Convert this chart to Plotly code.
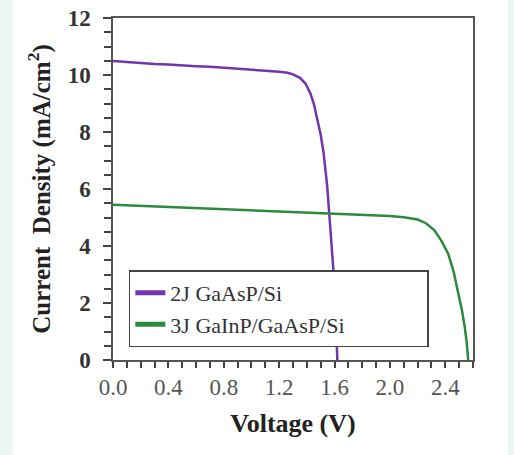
import plotly.graph_objects as go

# 2J GaAsP/Si
v_2j = [0.0, 0.1, 0.2, 0.3, 0.4, 0.5, 0.6, 0.7, 0.8, 0.9, 1.0, 1.1, 1.2, 1.26, 1.30,
        1.35, 1.39, 1.425, 1.45, 1.475, 1.50, 1.52, 1.547, 1.57, 1.594, 1.61, 1.62]
j_2j = [10.49, 10.45, 10.43, 10.39, 10.37, 10.33, 10.31, 10.29, 10.26, 10.23, 10.19, 10.15, 10.11, 10.08, 10.02,
        9.90, 9.70, 9.36, 9.00, 8.50, 7.90, 7.30, 6.10, 4.60, 3.00, 1.50, 0.0]

# 3J GaInP/GaAsP/Si
v_3j = [0.0, 0.2, 0.4, 0.6, 0.8, 1.0, 1.2, 1.4, 1.6, 1.8, 2.0, 2.1, 2.2, 2.26, 2.32,
        2.37, 2.42, 2.46, 2.49, 2.52, 2.54, 2.555, 2.565]
j_3j = [5.45, 5.41, 5.37, 5.32, 5.28, 5.24, 5.21, 5.18, 5.14, 5.10, 5.05, 5.01, 4.93, 4.80, 4.56,
        4.20, 3.74, 3.10, 2.46, 1.75, 1.17, 0.60, 0.0]

series_names = ["2J GaAsP/Si", "3J GaInP/GaAsP/Si"]
x_ticks = [0.0, 0.4, 0.8, 1.2, 1.6, 2.0, 2.4]
x_ticklabels = ["0.0", "0.4", "0.8", "1.2", "1.6", "2.0", "2.4"]
y_ticks = [0, 2, 4, 6, 8, 10, 12]
y_ticklabels = ["0", "2", "4", "6", "8", "10", "12"]

SERIF = "Liberation Serif"
NBSP = "\u00a0"

fig = go.Figure()
fig.add_trace(go.Scatter(x=v_2j, y=j_2j, mode="lines", name=series_names[0] + NBSP * 24,
                         line=dict(color="#7434ad", width=2.5)))
fig.add_trace(go.Scatter(x=v_3j, y=j_3j, mode="lines", name=series_names[1] + NBSP * 14,
                         line=dict(color="#2b8a3c", width=2.5)))

fig.add_shape(type="rect", xref="paper", yref="paper",
              x0=(13 - 113) / 360, x1=(508 - 113) / 360, y0=-0.35, y1=1.1,
              fillcolor="white", line=dict(width=0), layer="below")

fig.update_layout(
    width=514, height=455,
    margin=dict(l=113, r=41, t=18, b=95),
    paper_bgcolor="#ebf5f1",
    plot_bgcolor="white",
    font=dict(family=SERIF, color="#333333"),
    showlegend=True,
    legend=dict(
        x=0.044, y=0.262, xanchor="left", yanchor="top",
        bgcolor="white", bordercolor="#444444", borderwidth=1.5,
        font=dict(family=SERIF, size=22, color="#333333"),
        tracegroupgap=0, itemsizing="constant",
    ),
    xaxis=dict(
        range=[0, 2.6], tickmode="array", tickvals=x_ticks, ticktext=x_ticklabels,
        ticks="outside", ticklen=6, tickwidth=1.5, tickcolor="#444444",
        minor=dict(dtick=0.1, ticks="outside", ticklen=6, tickwidth=1.5, tickcolor="#444444"),
        showline=True, linecolor="#555555", linewidth=1.5, mirror=True,
        showgrid=False, zeroline=False, automargin=False, ticklabelstandoff=0,
        tickfont=dict(family=SERIF, size=23, color="#555555"),
        title=dict(text="<b>Voltage (V)</b>", font=dict(family=SERIF, size=26, color="#222222"), standoff=14),
    ),
    yaxis=dict(
        range=[0, 12], tickmode="array", tickvals=y_ticks, ticktext=["<b>%s</b>" % t for t in y_ticklabels],
        ticks="outside", ticklen=8, tickwidth=1.5, tickcolor="#444444",
        minor=dict(dtick=0.5, ticks="outside", ticklen=7, tickwidth=1.5, tickcolor="#444444"),
        showline=True, linecolor="#555555", linewidth=1.5, mirror=True,
        showgrid=False, zeroline=False, automargin=False, ticklabelstandoff=8,
        tickfont=dict(family=SERIF, size=23, color="#333333"),
        title=dict(text="<b>Current  Density (mA/cm<sup>2</sup>)</b>",
                   font=dict(family=SERIF, size=25, color="#222222"), standoff=10),
    ),
)

fig.write_html("out.html", config={"displayModeBar": False},
               post_script="document.body.style.margin='0';document.body.style.background='#ebf5f1';")
